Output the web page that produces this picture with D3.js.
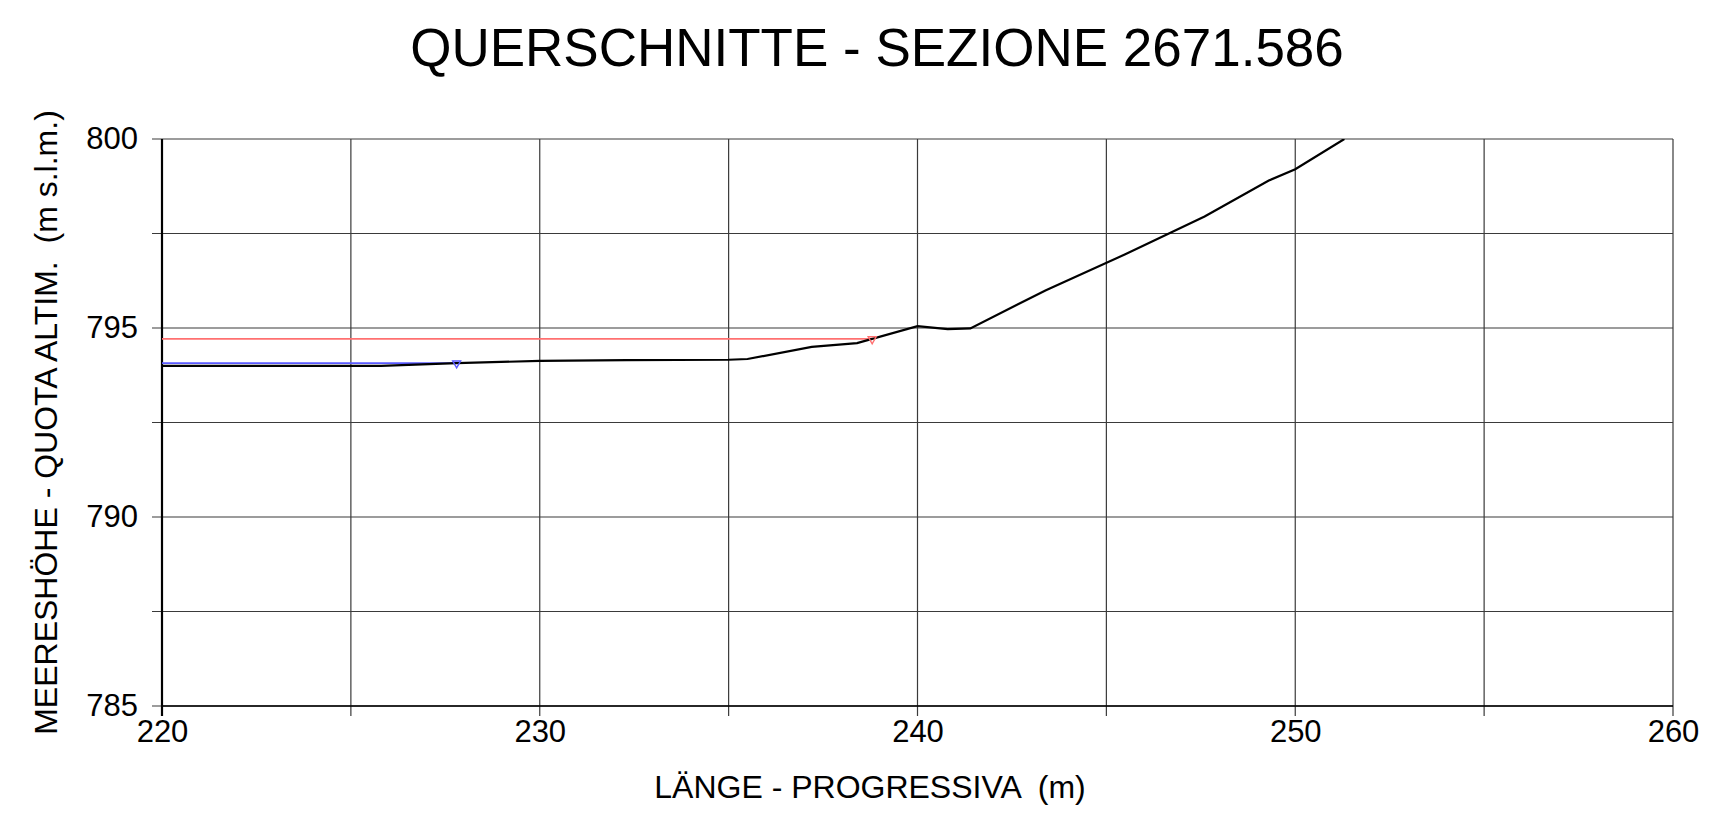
<!DOCTYPE html>
<html>
<head>
<meta charset="utf-8">
<script src="https://cdn.jsdelivr.net/npm/d3@7"></script>
<style>
  html, body { margin: 0; padding: 0; background: #fff; }
  svg text { font-family: "Liberation Sans", Arial, sans-serif; fill: #000; white-space: pre; }
</style>
</head>
<body>
<div id="chart"></div>
<script>
// Querschnitt / sezione trasversale – Gelände + Wasserspiegel

// data ───────────────────────────────────────────────────────────────────────
var groundX = [220, 225.8, 227.8, 230.0, 232.3, 235.0, 235.5, 237.2, 238.4, 240.0, 240.8, 241.4, 243.4, 245.5, 247.6, 249.3, 250.0, 251.3];
var groundY = [794.0, 794.0, 794.07, 794.13, 794.15, 794.16, 794.18, 794.5, 794.6, 795.05, 794.97, 794.99, 796.0, 796.95, 797.95, 798.9, 799.2, 800.0];

var waterNames  = ["HQ rot", "HQ blau"];
var waterLevel  = [794.71, 794.07];
var waterStart  = [220, 220];
var waterEnd    = [238.8, 227.8];
var waterColors = ["#ff7070", "#5a5aff"];

var xTickValues = [220, 230, 240, 250, 260];
var xGridValues = [220, 225, 230, 235, 240, 245, 250, 255, 260];
var yTickValues = [785, 790, 795, 800];
var yGridValues = [785, 787.5, 790, 792.5, 795, 797.5, 800];

var titleText = "QUERSCHNITTE - SEZIONE 2671.586";
var xLabel    = "LÄNGE - PROGRESSIVA  (m)";
var yLabel    = "MEERESHÖHE - QUOTA ALTIM.  (m s.l.m.)";

// layout ─────────────────────────────────────────────────────────────────────
var W = 1717, H = 831;
var margin = { top: 139, right: 44, bottom: 125, left: 162 };
var iw = W - margin.left - margin.right;
var ih = H - margin.top - margin.bottom;

var svg = d3.select("#chart").append("svg")
  .attr("width", W).attr("height", H);

var x = d3.scaleLinear().domain([220, 260]).range([0, iw]);
var y = d3.scaleLinear().domain([785, 800]).range([ih, 0]);

var g = svg.append("g").attr("transform", "translate(" + margin.left + "," + margin.top + ")");

// grid
g.selectAll("line.vgrid").data(xGridValues).enter().append("line")
  .attr("class", "vgrid")
  .attr("x1", function (d) { return x(d); }).attr("x2", function (d) { return x(d); })
  .attr("y1", 0).attr("y2", ih + 10)
  .attr("stroke", "#3a3a3a").attr("stroke-width", 1.2);

g.selectAll("line.hgrid").data(yGridValues).enter().append("line")
  .attr("class", "hgrid")
  .attr("x1", -10).attr("x2", iw)
  .attr("y1", function (d) { return y(d); }).attr("y2", function (d) { return y(d); })
  .attr("stroke", "#3a3a3a").attr("stroke-width", 1.2);

// axes (only labels from d3.axis, lines drawn above)
var xAxis = g.append("g").attr("transform", "translate(0," + ih + ")")
  .call(d3.axisBottom(x).tickValues(xTickValues).tickSize(0).tickPadding(14).tickFormat(d3.format("d")));
var yAxis = g.append("g")
  .call(d3.axisLeft(y).tickValues(yTickValues).tickSize(0).tickPadding(24).tickFormat(d3.format("d")));
[xAxis, yAxis].forEach(function (a) {
  a.select(".domain").remove();
  a.selectAll("text").style("font-size", "31px").attr("fill", "#000")
    .style("font-family", '"Liberation Sans", Arial, sans-serif');
});

// bottom + left axis lines
g.append("line").attr("x1", 0).attr("x2", iw).attr("y1", ih).attr("y2", ih)
  .attr("stroke", "#000").attr("stroke-width", 1.6);
g.append("line").attr("x1", 0).attr("x2", 0).attr("y1", 0).attr("y2", ih + 10)
  .attr("stroke", "#000").attr("stroke-width", 2.2);

// clip to plot area
svg.append("defs").append("clipPath").attr("id", "plotclip")
  .append("rect").attr("x", 0).attr("y", 0).attr("width", iw).attr("height", ih);

var plot = g.append("g").attr("clip-path", "url(#plotclip)");

// water levels
waterNames.forEach(function (name, i) {
  plot.append("line")
    .attr("x1", x(waterStart[i])).attr("x2", x(waterEnd[i]))
    .attr("y1", y(waterLevel[i])).attr("y2", y(waterLevel[i]))
    .attr("stroke", waterColors[i]).attr("stroke-width", 1.8);
});

// ground profile
var line = d3.line()
  .x(function (d) { return x(d[0]); })
  .y(function (d) { return y(d[1]); });
plot.append("path")
  .datum(d3.zip(groundX, groundY))
  .attr("d", line)
  .attr("fill", "none").attr("stroke", "#000").attr("stroke-width", 2.2);

// water level markers (inverted triangles)
waterNames.forEach(function (name, i) {
  var cx = x(waterEnd[i]), cy = y(waterLevel[i]);
  g.append("path")
    .attr("d", "M" + (cx - 4) + "," + (cy - 2.2) + "L" + (cx + 4) + "," + (cy - 2.2) + "L" + cx + "," + (cy + 4.8) + "Z")
    .attr("fill", "none").attr("stroke", waterColors[i]).attr("stroke-width", 1.4);
});

// titles
svg.append("text").attr("x", 877).attr("y", 66)
  .attr("text-anchor", "middle").style("font-size", "53px").text(titleText);

svg.append("text").attr("x", 870).attr("y", 798)
  .attr("text-anchor", "middle").style("font-size", "32px").text(xLabel);

svg.append("text")
  .attr("transform", "translate(57," + (margin.top + ih / 2) + ") rotate(-90)")
  .attr("text-anchor", "middle").style("font-size", "32px").text(yLabel);
</script>
</body>
</html>
